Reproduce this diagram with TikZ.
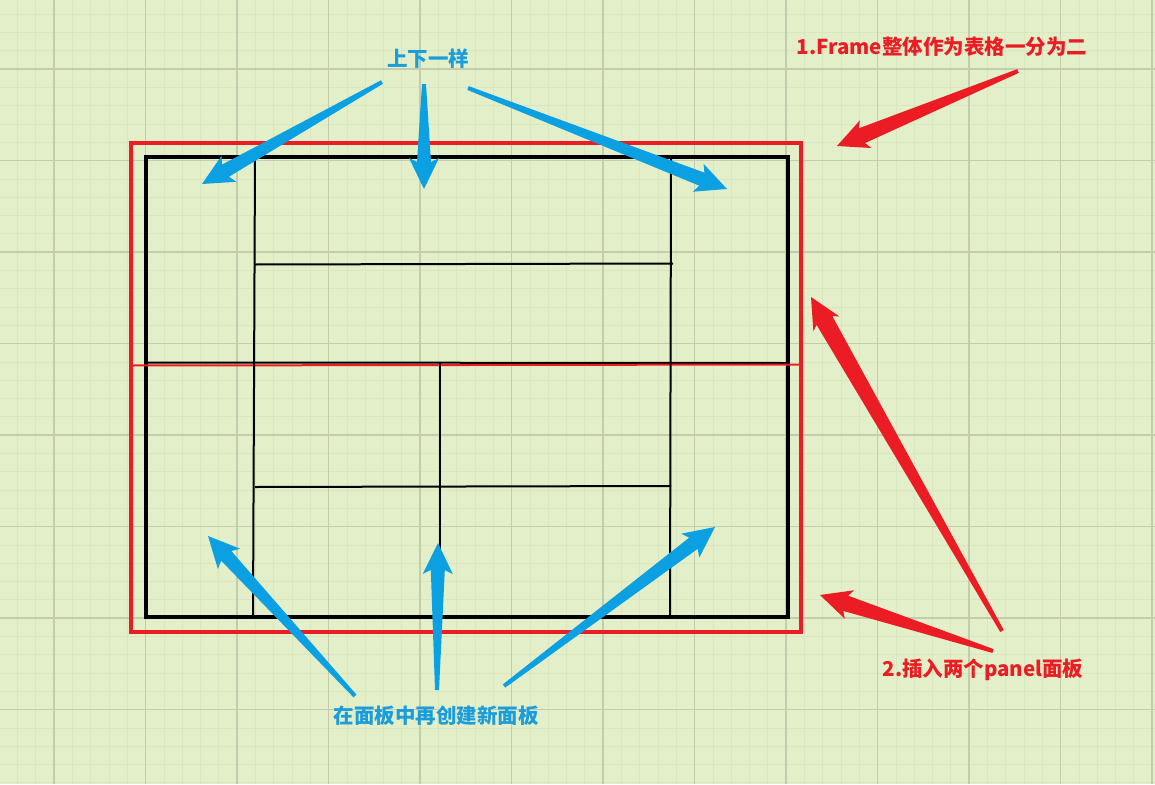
\documentclass[tikz,border=0pt]{standalone}
\usepackage{fontspec}
\newfontfamily\cjk{Noto Sans CJK SC}
\usetikzlibrary{calc}

\definecolor{bg}{HTML}{E3EFC9}
\definecolor{gridmaj}{HTML}{C4CBAE}
\definecolor{gridmin}{HTML}{D9E6C0}
\definecolor{arrblue}{HTML}{0AA0E2}
\definecolor{txtblue}{HTML}{1B9DDB}
\definecolor{arrred}{HTML}{EC1C24}

% tapered sketch arrow: [neck half width]{tail}{tip}{colour}
\newcommand{\fatarrow}[4][7pt]{%
  \coordinate (fa-w) at ($(#3)!31pt!(#2)$);
  \coordinate (fa-n) at ($(#3)!27pt!(#2)$);
  \fill[#4] ($(#2)!2pt!90:(#3)$) -- ($(fa-n)!#1!90:(#3)$) -- ($(fa-w)!15pt!90:(#3)$)
    -- (#3) -- ($(fa-w)!15pt!-90:(#3)$) -- ($(fa-n)!#1!-90:(#3)$)
    -- ($(#2)!2pt!-90:(#3)$) -- cycle;
}

\begin{document}
\begin{tikzpicture}[x=1pt,y=-1pt,
  major/.style={draw=gridmaj, line width=1.5pt},
  minor/.style={draw=gridmin, line width=0.5pt},
  lbl/.style={font=\cjk\bfseries\fontsize{20.5}{23}\selectfont, inner sep=0pt},
  thinline/.style={line width=2pt}]
\useasboundingbox[fill=bg] (0,0) rectangle (1155,784);

% grid
\foreach \i in {0,...,65} \draw[minor] ({-37.5+18.3*\i},0) -- ++(0,784);
\foreach \j in {0,...,45} \draw[minor] (0,{-22.5+18.3*\j}) -- ++(1155,0);
\foreach \i in {0,...,12} \draw[major] ({54+91.5*\i},0) -- ++(0,784);
\foreach \j in {0,...,7} \draw[major] (0,{69+91.5*\j}) -- ++(1155,0);

% frame and the two panels
\draw[arrred, line width=4pt] (131,143) rectangle (801,632);
\draw[line width=4pt] (146,157) rectangle (788,617);
\draw[thinline] (146,362.5) -- (788,363);
\draw[arrred, line width=2pt] (131,365.5) -- (801,364.5);

% panels inside the panels
\draw[thinline] (255,157) -- (253,617);
\draw[thinline] (671,157) -- (670,617);
\draw[thinline] (255,264.5) -- (673,263.5);
\draw[thinline] (440,363) -- (440,617);
\draw[thinline] (255,487) -- (671,486);

% labels
\node[lbl, text=txtblue] (same) at (428,59) {上下一样};
\node[lbl, text=txtblue] (newpanel) at (436,716) {在面板中再创建新面板};
\node[lbl, text=arrred] (frame) at (942,47) {1.Frame整体作为表格一分为二};
\node[lbl, text=arrred] (panels) at (983,670) {2.插入两个panel面板};

% arrow ends
\coordinate (a1) at (382,82);  \coordinate (a1t) at (202,184);
\coordinate (a2) at (424,84);  \coordinate (a2t) at (424,189);
\coordinate (a3) at (468,88);  \coordinate (a3t) at (727,189);
\coordinate (b1) at (355,696); \coordinate (b1t) at (208,536);
\coordinate (b2) at (437,690); \coordinate (b2t) at (438,543);
\coordinate (b3) at (504,686); \coordinate (b3t) at (715,527);
\coordinate (r1) at (1018,71); \coordinate (r1t) at (837,146);
\coordinate (r2) at (1002,631); \coordinate (r2t) at (811,297);
\coordinate (r3) at (993,651); \coordinate (r3t) at (820,595);

% blue arrows
\fatarrow{a1}{a1t}{arrblue}
\fatarrow{a2}{a2t}{arrblue}
\fatarrow{a3}{a3t}{arrblue}
\fatarrow{b1}{b1t}{arrblue}
\fatarrow{b2}{b2t}{arrblue}
\fatarrow{b3}{b3t}{arrblue}

% red arrows
\fatarrow[8pt]{r1}{r1t}{arrred}
\fatarrow[9pt]{r2}{r2t}{arrred}
\fatarrow[8pt]{r3}{r3t}{arrred}

\end{tikzpicture}
\end{document}
